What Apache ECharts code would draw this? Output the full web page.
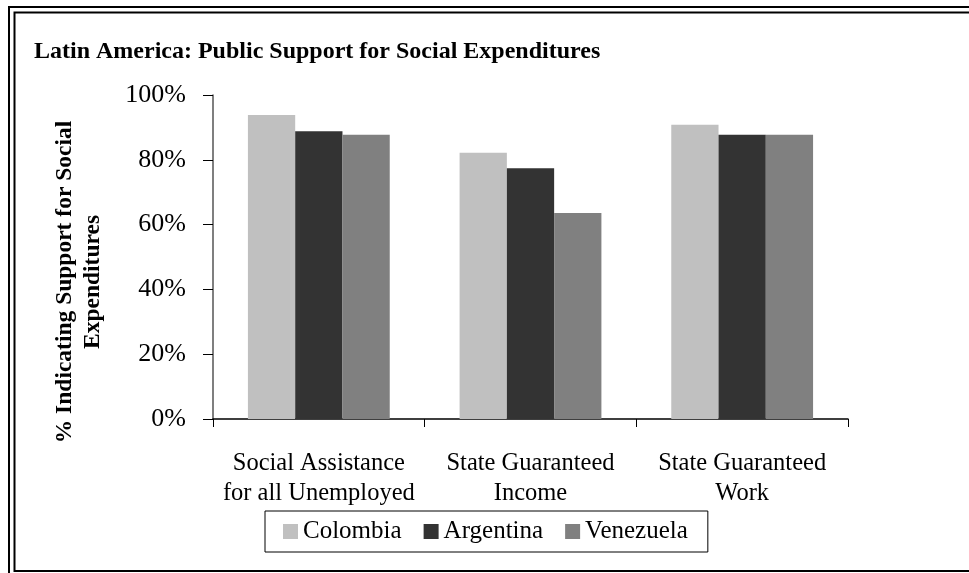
<!DOCTYPE html>
<html>
<head>
<meta charset="utf-8">
<script src="https://cdn.jsdelivr.net/npm/echarts@6/dist/echarts.min.js"></script>
<style>
html,body{margin:0;padding:0;background:#fff;}
#chart{width:969px;height:573px;}
</style>
</head>
<body>
<div id="chart"></div>
<script>
const categories = ['Social Assistance\nfor all Unemployed', 'State Guaranteed\nIncome', 'State Guaranteed\nWork'];
const colombia = [93.8, 82.2, 90.8];
const argentina = [88.8, 77.4, 87.7];
const venezuela = [87.7, 63.6, 87.7];
const seriesNames = ['Colombia', 'Argentina', 'Venezuela'];
const yTicks = [0, 20, 40, 60, 80, 100];

const FONT = '"Liberation Serif", "Times New Roman", serif';
const chart = echarts.init(document.getElementById('chart'), null, {renderer: 'canvas'});
const colors = ['#C0C0C0', '#333333', '#808080'];
const data = [colombia, argentina, venezuela];

chart.setOption({
  animation: false,
  backgroundColor: '#fff',
  title: {
    text: 'Latin America: Public Support for Social Expenditures',
    left: 29, top: 35,
    textStyle: {fontFamily: FONT, fontWeight: 'bold', fontSize: 24, color: '#000'}
  },
  grid: {left: 213, right: 121, top: 95, bottom: 154, containLabel: false},
  legend: {
    left: 265, top: 511,
    itemWidth: 15, itemHeight: 15, itemGap: 22,
    borderColor: '#000', borderWidth: 1, padding: [8, 20, 8, 18],
    icon: 'rect',
    textStyle: {fontFamily: FONT, fontSize: 25, color: '#000'},
    data: seriesNames
  },
  xAxis: {
    type: 'category',
    data: categories,
    axisLine: {lineStyle: {color: '#000', width: 1.5}},
    axisTick: {show: true, length: 8, lineStyle: {color: '#000'}},
    axisLabel: {fontFamily: FONT, fontSize: 24.5, color: '#000', margin: 30, lineHeight: 30, interval: 0}
  },
  yAxis: {
    type: 'value',
    min: yTicks[0], max: yTicks[yTicks.length - 1], interval: 20,
    axisLine: {show: true, lineStyle: {color: '#555', width: 1.5}},
    axisTick: {show: true, length: 10, lineStyle: {color: '#000'}},
    splitLine: {show: false},
    axisLabel: {fontFamily: FONT, fontSize: 26, color: '#000', margin: 27, formatter: '{value}%'}
  },
  graphic: [
    {type: 'rect', silent: true, shape: {x: 9, y: 7, width: 980, height: 600}, style: {fill: 'none', stroke: '#000', lineWidth: 2}},
    {type: 'rect', silent: true, shape: {x: 14.5, y: 12.5, width: 970, height: 558.5}, style: {fill: 'none', stroke: '#000', lineWidth: 2}},
    {type: 'text', silent: true, x: 79, y: 282, rotation: Math.PI / 2,
      style: {text: '% Indicating Support for Social\nExpenditures', fontFamily: FONT, fontWeight: 'bold', fontSize: 23.5, lineHeight: 28, fill: '#000', align: 'center', verticalAlign: 'middle'}}
  ],
  series: seriesNames.map((name, i) => ({
    name: name,
    type: 'bar',
    data: data[i],
    barGap: '0%',
    barCategoryGap: '33%',
    itemStyle: {color: colors[i]}
  }))
});
</script>
</body>
</html>
